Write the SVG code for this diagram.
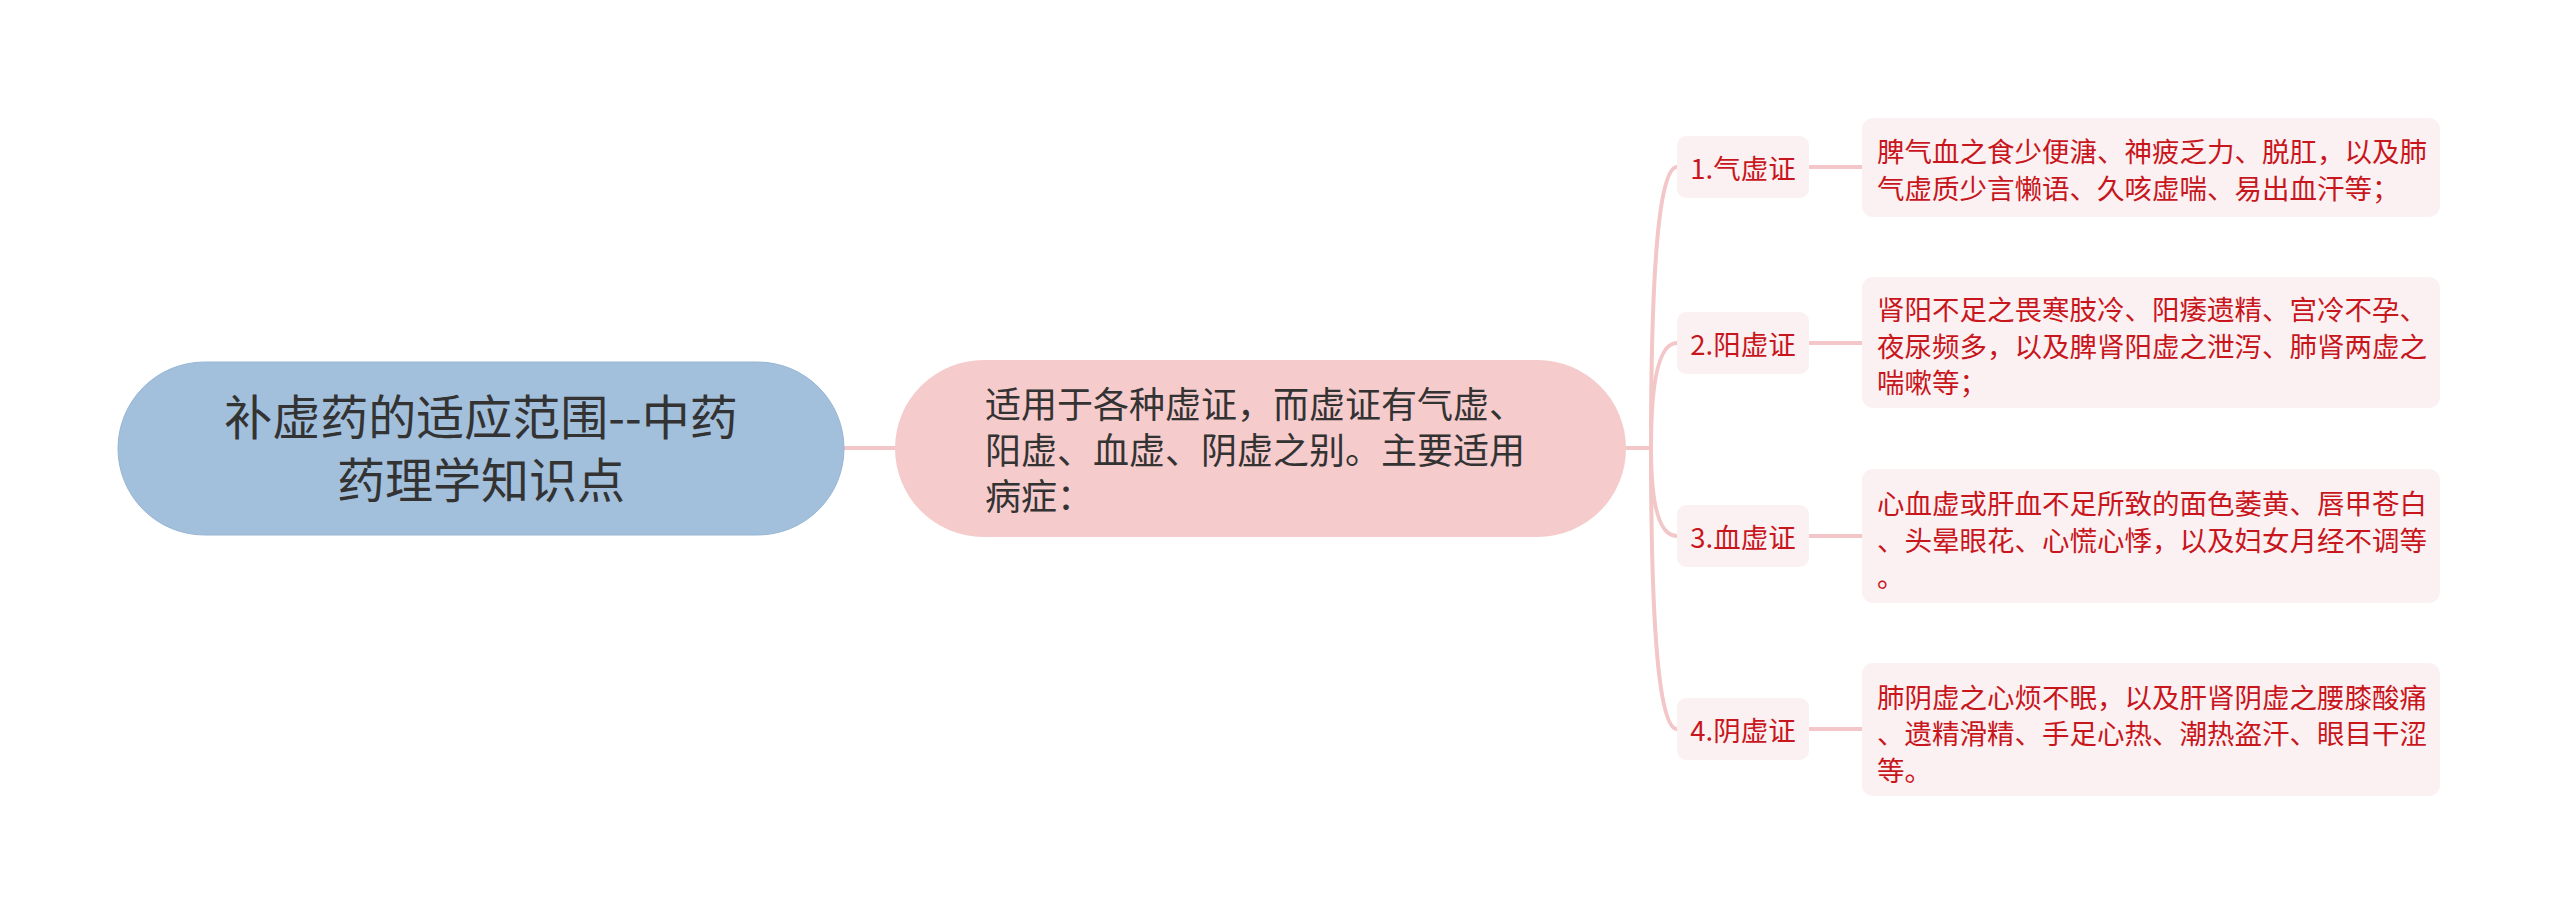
<svg xmlns="http://www.w3.org/2000/svg" width="2560" height="915" viewBox="0 0 2560 915">
<style>
.t{font-family:"Noto Sans CJK SC","Noto Sans",sans-serif;}
.root{fill:#a2bfdb;stroke:#98b6d4;stroke-width:1}
.mid{fill:#f5cbcc}
.lbl{fill:#fcf1f2}
.det{fill:#fcf1f2}
.tr{fill:#333333;font-size:48px;text-anchor:middle}
.tm{fill:#333333;font-size:36px}
.tl{fill:#c8161d;font-size:27.5px;text-anchor:middle}
.td{fill:#c8161d;font-size:27.5px}
.c{fill:none;stroke:#f3c6c8;stroke-width:4;stroke-linecap:round}
</style>
<rect width="2560" height="915" fill="#ffffff"/>
<g id="connectors">
<path class="c" d="M844 448 L895 448"/>
<path class="c" d="M1626 448 L1651 448"/>
<path class="c" d="M1651 448 Q1651 167 1677 167"/>
<path class="c" d="M1651 448 Q1651 343 1677 343"/>
<path class="c" d="M1651 448 Q1651 536 1677 536"/>
<path class="c" d="M1651 448 Q1651 729 1677 729"/>
<path class="c" d="M1809 167 L1862 167"/>
<path class="c" d="M1809 343 L1862 343"/>
<path class="c" d="M1809 536 L1862 536"/>
<path class="c" d="M1809 729 L1862 729"/>
</g>
<g id="root">
<rect class="root" x="118" y="362" width="726" height="173" rx="86.5"/>
<text class="t tr" x="481" y="435">补虚药的适应范围--中药</text>
<text class="t tr" x="481" y="498">药理学知识点</text>
</g>
<g id="middle">
<rect class="mid" x="895" y="360" width="731" height="177" rx="88.5"/>
<text class="t tm" x="985" y="418">适用于各种虚证，而虚证有气虚、</text>
<text class="t tm" x="985" y="464">阳虚、血虚、阴虚之别。主要适用</text>
<text class="t tm" x="985" y="510">病症：</text>
</g>
<g id="label1">
<rect class="lbl" x="1677" y="136" width="132" height="62" rx="9"/>
<text class="t tl" x="1743" y="179">1.气虚证</text>
</g>
<g id="detail1">
<rect class="det" x="1862" y="118" width="578" height="99" rx="11"/>
<text class="t td" x="1877" y="162">脾气血之食少便溏、神疲乏力、脱肛，以及肺</text>
<text class="t td" x="1877" y="198.5">气虚质少言懒语、久咳虚喘、易出血汗等；</text>
</g>
<g id="label2">
<rect class="lbl" x="1677" y="312" width="132" height="62" rx="9"/>
<text class="t tl" x="1743" y="355">2.阳虚证</text>
</g>
<g id="detail2">
<rect class="det" x="1862" y="277" width="578" height="131" rx="11"/>
<text class="t td" x="1877" y="320">肾阳不足之畏寒肢冷、阳痿遗精、宫冷不孕、</text>
<text class="t td" x="1877" y="356.5">夜尿频多，以及脾肾阳虚之泄泻、肺肾两虚之</text>
<text class="t td" x="1877" y="393">喘嗽等；</text>
</g>
<g id="label3">
<rect class="lbl" x="1677" y="505" width="132" height="62" rx="9"/>
<text class="t tl" x="1743" y="548">3.血虚证</text>
</g>
<g id="detail3">
<rect class="det" x="1862" y="469" width="578" height="134" rx="11"/>
<text class="t td" x="1877" y="514">心血虚或肝血不足所致的面色萎黄、唇甲苍白</text>
<text class="t td" x="1877" y="550.5">、头晕眼花、心慌心悸，以及妇女月经不调等</text>
<text class="t td" x="1877" y="587">。</text>
</g>
<g id="label4">
<rect class="lbl" x="1677" y="698" width="132" height="62" rx="9"/>
<text class="t tl" x="1743" y="741">4.阴虚证</text>
</g>
<g id="detail4">
<rect class="det" x="1862" y="663" width="578" height="133" rx="11"/>
<text class="t td" x="1877" y="707.5">肺阴虚之心烦不眠，以及肝肾阴虚之腰膝酸痛</text>
<text class="t td" x="1877" y="744">、遗精滑精、手足心热、潮热盗汗、眼目干涩</text>
<text class="t td" x="1877" y="780.5">等。</text>
</g>
</svg>
